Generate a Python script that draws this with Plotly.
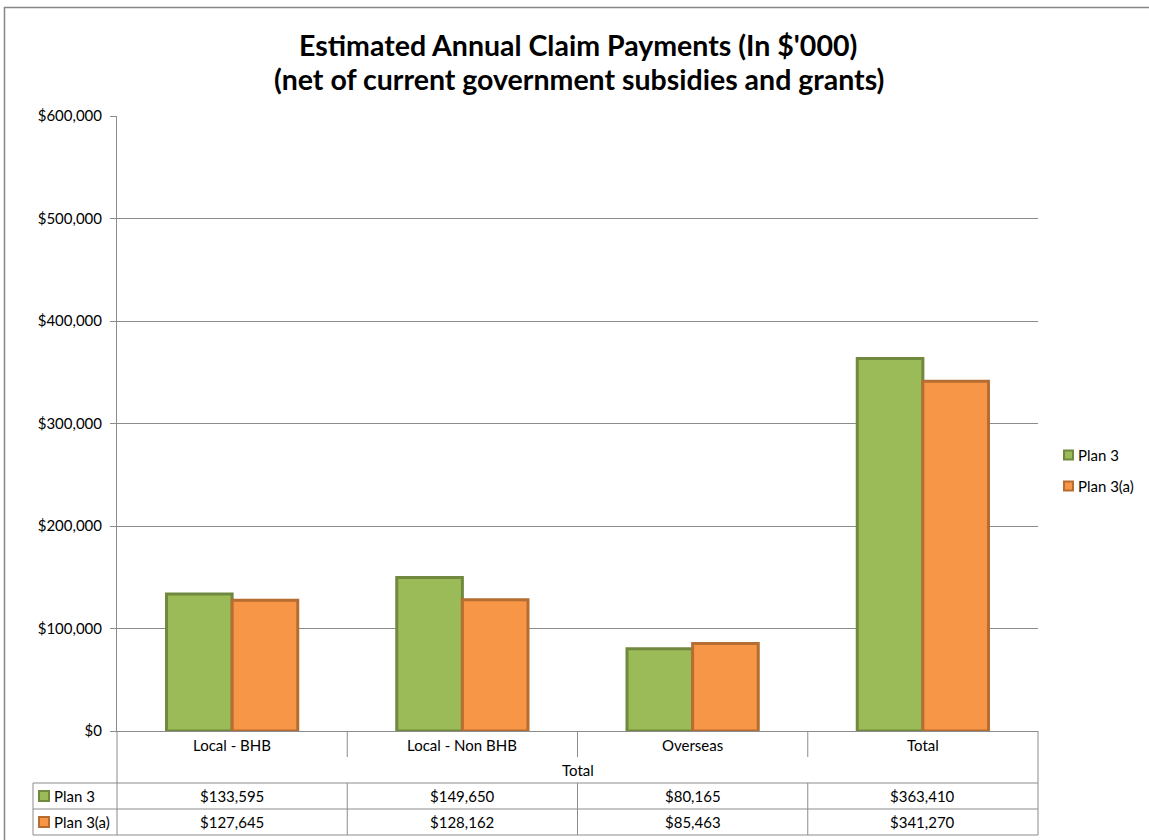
import plotly.graph_objects as go

categories = ["Local - BHB", "Local - Non BHB", "Overseas", "Total"]
series_names = ["Plan 3", "Plan 3(a)"]
plan3 = [133595, 149650, 80165, 363410]
plan3a = [127645, 128162, 85463, 341270]
group_label = "Total"
title_lines = ["Estimated Annual Claim Payments (In $'000)",
               "(net of current government subsidies and grants)"]

W, H = 1149, 840
def X(px): return px / W
def Y(py): return 1 - py / H

FONT = "Lato"
GRID = "#8c8c8c"
fills = ["#9BBB59", "#F79646"]
lines = ["#71893F", "#B66D31"]
FS = 15

fig = go.Figure()
for name, vals, fc, lc in zip(series_names, [plan3, plan3a], fills, lines):
    fig.add_trace(go.Bar(x=categories, y=vals, name=name, showlegend=False,
                         marker=dict(color=fc, line=dict(color=lc, width=3))))

L, R, T, B = 117, 1038, 116, 731
fig.update_layout(
    width=W, height=H, autosize=False,
    margin=dict(l=0, r=0, t=0, b=0, pad=0),
    paper_bgcolor="white", plot_bgcolor="white",
    barmode="group", bargap=0.43, bargroupgap=0,
    font=dict(family=FONT, size=FS, color="#000000"),
    showlegend=False,
    xaxis=dict(domain=[X(L), X(R)], range=[-0.5, 3.5], showticklabels=False,
               showline=True, linecolor=GRID, linewidth=1, ticks="",
               showgrid=False, zeroline=False, fixedrange=True, automargin=False),
    yaxis=dict(domain=[Y(B), Y(T)], range=[0, 600000], dtick=100000,
               tickprefix="$", tickformat=",.0f", showgrid=True,
               gridcolor=GRID, gridwidth=1, showline=True, linecolor=GRID,
               ticks="outside", ticklen=6, tickcolor=GRID, zeroline=False,
               ticklabelstandoff=5, automargin=False,
               tickfont=dict(family=FONT, size=FS, color="#000")),
)

shapes = []
def line(x0, y0, x1, y1, xref="paper"):
    shapes.append(dict(type="line", xref=xref, yref="paper",
                       x0=x0, x1=x1, y0=Y(y0), y1=Y(y1),
                       line=dict(color=GRID, width=1)))

# outer border
shapes.append(dict(type="rect", xref="paper", yref="paper",
                   x0=X(4.5), x1=X(1165), y0=Y(7.5), y1=Y(850),
                   line=dict(color="#868686", width=1.5)))

r1, r2, r3, r4 = 757, 783, 809, 835
tl = 33
line(X(L), B, X(L), r4)
line(X(R), B, X(R), r4)
for b in [0.5, 1.5, 2.5]:
    line(b, B, b, r1, xref="x")
    line(b, r2, b, r4, xref="x")
for yy in [r2, r3, r4]:
    line(X(tl), yy, X(R), yy)
line(X(tl), r2, X(tl), r4)

def txt(x, y, text, xref="paper", xanchor="center", size=FS, bold=False):
    return dict(x=x, xref=xref, y=Y(y), yref="paper", text=("<b>%s</b>" % text) if bold else text,
                showarrow=False, xanchor=xanchor, yanchor="middle",
                font=dict(size=size, family=FONT, color="#000"))

annotations = []
for c in categories:
    annotations.append(txt(c, (B + r1) / 2 + 1, c, xref="x"))
annotations.append(txt(X((L + R) / 2), (r1 + r2) / 2, group_label))
for ri, (name, vals, fc, lc) in enumerate(zip(series_names, [plan3, plan3a], fills, lines)):
    yc = (r2 + r3) / 2 if ri == 0 else (r3 + r4) / 2
    shapes.append(dict(type="rect", xref="paper", yref="paper",
                       x0=X(39), x1=X(49), y0=Y(yc - 5), y1=Y(yc + 5),
                       fillcolor=fc, line=dict(color=lc, width=2)))
    annotations.append(txt(X(52), yc, name, xanchor="left"))
    for c, v in zip(categories, vals):
        annotations.append(txt(c, yc, f"${v:,}", xref="x"))

# legend (drawn manually)
for ri, (name, fc, lc) in enumerate(zip(series_names, fills, lines)):
    yc = 455 + ri * 31
    shapes.append(dict(type="rect", xref="paper", yref="paper",
                       x0=X(1064), x1=X(1073), y0=Y(yc - 4.5), y1=Y(yc + 4.5),
                       fillcolor=fc, line=dict(color=lc, width=2)))
    annotations.append(txt(X(1076), yc, name, xanchor="left"))

annotations.append(txt(X(578), 45, title_lines[0], size=28.5, bold=True))
annotations.append(txt(X(579), 79, title_lines[1], size=28.5, bold=True))

fig.update_layout(shapes=shapes, annotations=annotations)
fig.write_html("out.html", config={"displayModeBar": False},
               post_script="document.body.style.margin='0';document.body.style.overflow='hidden';")
